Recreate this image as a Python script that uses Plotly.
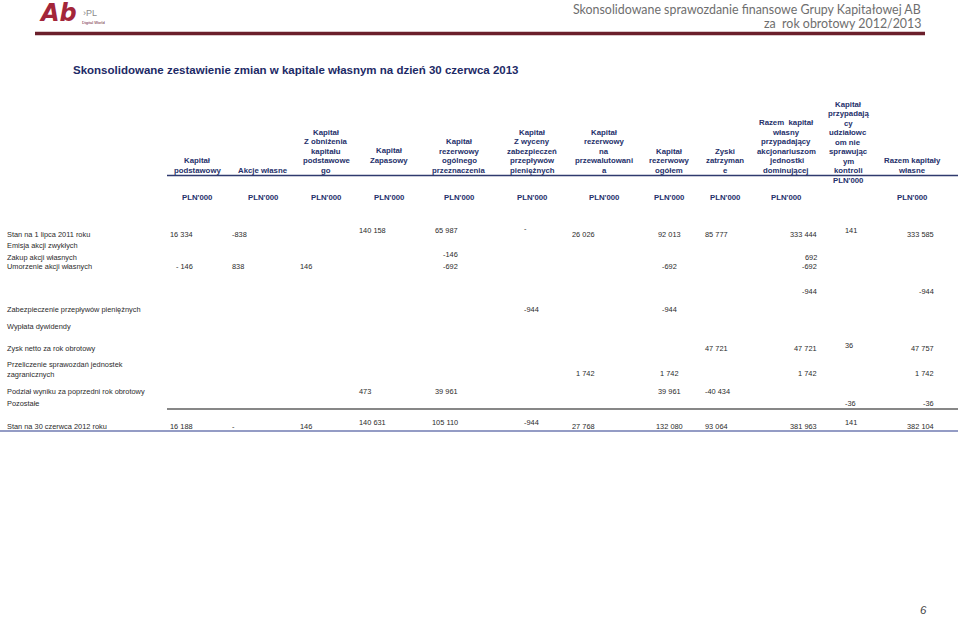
import plotly.graph_objects as go

# ---------------------------------------------------------------- data
column_headers = [
    ["Kapitał", "podstawowy"],
    ["Akcje własne"],
    ["Kapitał", "Z obniżenia", "kapitału", "podstawowe", "go"],
    ["Kapitał", "Zapasowy"],
    ["Kapitał", "rezerwowy", "ogólnego", "przeznaczenia"],
    ["Kapitał", "Z wyceny", "zabezpieczeń", "przepływów", "pieniężnych"],
    ["Kapitał", "rezerwowy", "na", "przewalutowani", "a"],
    ["Kapitał", "rezerwowy", "ogółem"],
    ["Zyski", "zatrzyman", "e"],
    ["Razem  kapitał", "własny", "przypadający", "akcjonariuszom", "jednostki", "dominującej"],
    ["Kapitał", "przypadają", "cy", "udziałowc", "om nie", "sprawując", "ym", "kontroli", "PLN'000"],
    ["Razem kapitały", "własne"],
]
unit_row = ["PLN'000"] * 10 + [None, "PLN'000"]

row_labels = [
    "Stan na 1 lipca 2011 roku",
    "Emisja akcji zwykłych",
    "Zakup akcji własnych",
    "Umorzenie akcji własnych",
    "",
    "Zabezpieczenie przepływów pieniężnych",
    "Wypłata dywidendy",
    "Zysk netto za rok obrotowy",
    "Przeliczenie sprawozdań jednostek<br>zagranicznych",
    "Podział wyniku za poprzedni rok obrotowy",
    "Pozostałe",
    "Stan na 30 czerwca 2012 roku",
]

N = None
stan_2011 = ["16 334", "-838", N, "140 158", "65 987", "-", "26 026", "92 013", "85 777", "333 444", "141", "333 585"]
emisja = [N] * 12
zakup = [N, N, N, N, "-146", N, N, N, N, "692", N, N]
umorzenie = ["- 146", "838", "146", N, "-692", N, N, "-692", N, "-692", N, N]
bez_opisu = [N, N, N, N, N, N, N, N, N, "-944", N, "-944"]
zabezpieczenie = [N, N, N, N, N, "-944", N, "-944", N, N, N, N]
dywidenda = [N] * 12
zysk_netto = [N, N, N, N, N, N, N, N, "47 721", "47 721", "36", "47 757"]
przeliczenie = [N, N, N, N, N, N, "1 742", "1 742", N, "1 742", N, "1 742"]
podzial_wyniku = [N, N, N, "473", "39 961", N, N, "39 961", "-40 434", N, N, N]
pozostale = [N, N, N, N, N, N, N, N, N, N, "-36", "-36"]
stan_2012 = ["16 188", "-", "146", "140 631", "105 110", "-944", "27 768", "132 080", "93 064", "381 963", "141", "382 104"]

rows = [stan_2011, emisja, zakup, umorzenie, bez_opisu, zabezpieczenie, dywidenda,
        zysk_netto, przeliczenie, podzial_wyniku, pozostale, stan_2012]

# ---------------------------------------------------------------- layout (page pixels)
COL_X = [195, 230, 298, 357, 460, 522, 597, 669.5, 703, 819, 843, 936]
COL_ALIGN = ["right", "left", "left", "left", "right", "left", "right", "center",
             "left", "right", "left", "right"]
HEAD_X = [197, 263, 326, 389, 459, 532, 604, 669, 725, 786, 848, 912]
HEAD_BOTTOM = [170, 170, 170, 160, 170, 170, 170, 170, 170, 170, 180, 170]
HEAD_STEP = 9.5
UNIT_Y = 197
ROW_Y = [234, 245, 257, 266, 291, 309, 326, 348, 373, 391, 403, 426]
LABEL_Y = {8: 369.5}
RAISED = {(0, 3): -4, (0, 4): -4, (0, 5): -6, (0, 10): -4, (2, 4): -2.5,
          (7, 10): -3, (11, 3): -4, (11, 4): -4, (11, 5): -4, (11, 10): -4}

FONT = "Arial, 'Liberation Sans', sans-serif"
NAVY = "#25306a"
BODY = "#2b2b2b"

annotations = []


def txt(x, y, text, size, color=BODY, anchor="left", bold=False, **kw):
    font = dict(family=kw.pop("family", FONT), size=size, color=color)
    if bold:
        font["weight"] = "bold"
    if "style" in kw:
        font["style"] = kw.pop("style")
    annotations.append(dict(x=x, y=y, xref="x", yref="y", text=text, showarrow=False,
                            xanchor=anchor, yanchor="middle", font=font, **kw))


# page header
txt(923, 9.5, "Skonsolidowane sprawozdanie finansowe Grupy Kapitałowej AB", 12.4,
    color="#6e6e6e", anchor="right", family="Lato, sans-serif")
txt(923, 23.5, "za  rok obrotowy 2012/2013", 12.4, color="#6e6e6e", anchor="right",
    family="Lato, sans-serif")
txt(37, 12.5, "Ab", 24, color="#a3263a", bold=True, style="italic",
    family="'DejaVu Sans', sans-serif")
txt(81, 12.5, "›PL", 9, color="#8a8a8a")
txt(80, 22, "Digital World", 4, color="#6b2030")
txt(71, 70, "Skonsolidowane zestawienie zmian w kapitale własnym na dzień 30 czerwca 2013",
    11.5, color="#1d2a66", bold=True)

# column headers
for hx, bottom, lines in zip(HEAD_X, HEAD_BOTTOM, column_headers):
    for i, line in enumerate(lines):
        txt(hx, bottom - HEAD_STEP * (len(lines) - 1 - i), line, 7.8, color=NAVY,
            anchor="center", bold=True)
for hx, unit in zip(HEAD_X, unit_row):
    if unit:
        txt(hx, UNIT_Y, unit, 7.8, color=NAVY, anchor="center", bold=True)

# rows
for r, (label, values) in enumerate(zip(row_labels, rows)):
    if label:
        txt(5, LABEL_Y.get(r, ROW_Y[r]), label, 7.4, align="left")
    for c, v in enumerate(values):
        if v is None:
            continue
        txt(COL_X[c], ROW_Y[r] + RAISED.get((r, c), 0), v, 7.4, anchor=COL_ALIGN[c])

txt(918, 610, "6", 11.5, color="#444444", style="italic")

shapes = [
    dict(type="line", x0=35, x1=925, y0=33.5, y1=33.5, line=dict(color="#6b1f2b", width=3.5)),
    dict(type="line", x0=167, x1=958, y0=175.5, y1=175.5, line=dict(color="#2f3a6e", width=1.5)),
    dict(type="line", x0=167, x1=958, y0=409, y1=409, line=dict(color="#111111", width=1.2)),
    dict(type="line", x0=0, x1=958, y0=431, y1=431, line=dict(color="#2a3a8c", width=1.2)),
]
for s in shapes:
    s.update(xref="x", yref="y")

fig = go.Figure()
fig.update_layout(
    width=960, height=619,
    margin=dict(l=0, r=0, t=0, b=0),
    paper_bgcolor="white", plot_bgcolor="white",
    xaxis=dict(range=[0, 960], visible=False, fixedrange=True),
    yaxis=dict(range=[619, 0], visible=False, fixedrange=True),
    annotations=annotations, shapes=shapes, showlegend=False,
)
# drop the browser's default 8px body margin so page pixels match axis units
fig.write_html("out.html", config={"displayModeBar": False},
               post_script="document.body.style.margin='0px';")
